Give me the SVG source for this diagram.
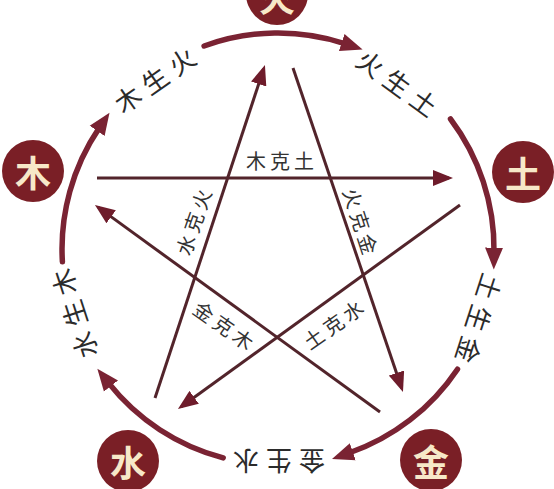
<svg xmlns="http://www.w3.org/2000/svg" width="554" height="489" viewBox="0 0 554 489">
<style>
.node circle{fill:#7a1f26}
.node text{font-family:"Noto Sans CJK SC","Noto Sans CJK JP",sans-serif;font-weight:bold;font-size:36px;fill:#f7e8c8;text-anchor:middle;dominant-baseline:central}
.arc{fill:none;stroke:#7a2333;stroke-width:5.5;stroke-linecap:round}
.star{fill:none;stroke:#52242b;stroke-width:3}
.lbl{font-family:"Noto Sans CJK SC","Noto Sans CJK JP",sans-serif;font-size:26px;fill:#2b2b2b;text-anchor:middle;dominant-baseline:central;letter-spacing:7px}
.slbl{font-family:"Noto Sans CJK SC","Noto Sans CJK JP",sans-serif;font-size:20px;fill:#333;text-anchor:middle;dominant-baseline:central;letter-spacing:4px}
</style>
<defs>
<marker id="ah" viewBox="0 -10 24 20" refX="4" refY="0" markerWidth="24" markerHeight="20" markerUnits="userSpaceOnUse" orient="auto"><path d="M0,-9 L22,0 L0,9 Z" fill="#7a2333"/></marker>
<marker id="sh" viewBox="0 -8 20 16" refX="16" refY="0" markerWidth="20" markerHeight="16" markerUnits="userSpaceOnUse" orient="auto"><path d="M0,-8 L20,0 L0,8 Z" fill="#6e1c2b"/></marker>
</defs>
<rect width="554" height="489" fill="#fff"/>
<g id="connectors">
<path class="arc" d="M204.1,46 A216,216 0 0 1 345.5,43.8" marker-end="url(#ah)"/>
<path class="arc" d="M450.5,119 A216,216 0 0 1 494,251.6" marker-end="url(#ah)"/>
<path class="arc" d="M457.5,369.2 A216,216 0 0 1 349,453" marker-end="url(#ah)"/>
<path class="arc" d="M223.2,457.9 A216,216 0 0 1 108.5,382.9" marker-end="url(#ah)"/>
<path class="arc" d="M62.4,261.8 A216,216 0 0 1 99.4,127.6" marker-end="url(#ah)"/>
<path class="star" d="M97,178 L449,178" marker-end="url(#sh)"/>
<path class="star" d="M293,68 L401.7,388.2" marker-end="url(#sh)"/>
<path class="star" d="M460,205 L181.2,406.7" marker-end="url(#sh)"/>
<path class="star" d="M155,398 L263.7,68.8" marker-end="url(#sh)"/>
<path class="star" d="M380,412 L98.2,207.4" marker-end="url(#sh)"/>
<text class="lbl" transform="translate(154,79) rotate(-35)" x="3.5">木生火</text>
<text class="lbl" transform="translate(398,82) rotate(36)" x="3.5">火生土</text>
<text class="lbl" transform="translate(480,319) rotate(108)" x="3.5">土生金</text>
<text class="lbl" transform="translate(279,462) rotate(180)" x="3.5">金生水</text>
<text class="lbl" transform="translate(73,314) rotate(-108)" x="3.5">水生木</text>
<text class="slbl" transform="translate(280,160)" x="2">木克土</text>
<text class="slbl" transform="translate(361,221) rotate(72)" x="2">火克金</text>
<text class="slbl" transform="translate(193,222) rotate(-71)" x="2">水克火</text>
<text class="slbl" transform="translate(224,325) rotate(35)" x="2">金克木</text>
<text class="slbl" transform="translate(333,324) rotate(-35)" x="2">土克水</text>
</g>
<g id="node-fire" class="node"><circle cx="277" cy="-6" r="31"/><text x="277" y="-4">火</text></g>
<g id="node-earth" class="node"><circle cx="523" cy="172" r="31"/><text x="523" y="172">土</text></g>
<g id="node-metal" class="node"><circle cx="431" cy="460" r="31"/><text x="431" y="460">金</text></g>
<g id="node-water" class="node"><circle cx="128" cy="461" r="31"/><text x="128" y="461">水</text></g>
<g id="node-wood" class="node"><circle cx="33" cy="171" r="31"/><text x="33" y="171">木</text></g>
</svg>
